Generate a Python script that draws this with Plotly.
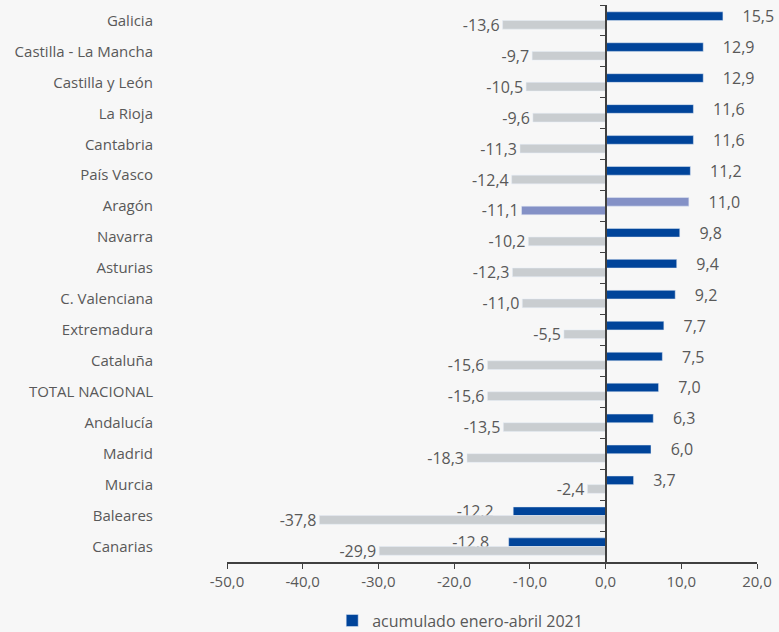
import plotly.graph_objects as go

# Datos: variación (%) por comunidad autónoma
regiones = ['Galicia', 'Castilla - La Mancha', 'Castilla y León', 'La Rioja', 'Cantabria',
            'País Vasco', 'Aragón', 'Navarra', 'Asturias', 'C. Valenciana', 'Extremadura',
            'Cataluña', 'TOTAL NACIONAL', 'Andalucía', 'Madrid', 'Murcia', 'Baleares', 'Canarias']
acum_2021 = [15.5, 12.9, 12.9, 11.6, 11.6, 11.2, 11.0, 9.8, 9.4, 9.2, 7.7, 7.5, 7.0, 6.3, 6.0, 3.7,
             -12.2, -12.8]
acum_2020 = [-13.6, -9.7, -10.5, -9.6, -11.3, -12.4, -11.1, -10.2, -12.3, -11.0, -5.5, -15.6,
             -15.6, -13.5, -18.3, -2.4, -37.8, -29.9]
x_ticks = [-50, -40, -30, -20, -10, 0, 10, 20]

azul = '#00449a'
gris = '#c9cdd0'
destacado = '#8491c6'
texto = '#595959'
fuente = 'Open Sans, sans-serif'


def fmt(v):
    # coma decimal y guion normal como en el original
    return f'{v:.1f}'.replace('.', ',')


col_azul = [destacado if r == 'Aragón' else azul for r in regiones]
col_gris = [destacado if r == 'Aragón' else gris for r in regiones]

nb = '\u00a0' * 4
txt_azul = [nb + fmt(v) if v >= 0 else fmt(v) + nb for v in acum_2021]
txt_gris = [fmt(v) for v in acum_2020]

fig = go.Figure()
fig.add_trace(go.Bar(y=regiones, x=acum_2021, orientation='h',
                     name='acumulado enero-abril 2021',
                     marker_color=col_azul,
                     text=txt_azul, texttemplate='%{text}', textposition='outside',
                     constraintext='none', cliponaxis=False,
                     textfont=dict(size=16, color=texto)))
fig.add_trace(go.Bar(y=regiones, x=acum_2020, orientation='h',
                     name='acumulado enero-abril 2020', showlegend=False,
                     marker_color=col_gris,
                     text=txt_gris, texttemplate='%{text}', textposition='outside',
                     constraintext='none', cliponaxis=False,
                     textfont=dict(size=16, color=texto)))
# eje auxiliar para dibujar la línea del cero con sus marcas
fig.add_trace(go.Bar(y=regiones, x=[0] * len(regiones), orientation='h', yaxis='y2',
                     showlegend=False, hoverinfo='skip', marker_color='rgba(0,0,0,0)'))

x0_paper = (0 - x_ticks[0]) / (x_ticks[-1] - x_ticks[0])
rango_y = [len(regiones) - 0.5, -0.5]

fig.update_layout(
    width=779, height=632,
    paper_bgcolor='#f7f7f7', plot_bgcolor='#f7f7f7',
    font=dict(family=fuente, color=texto),
    barmode='group', bargap=0.44, bargroupgap=0,
    margin=dict(l=227, r=22, t=5, b=70, autoexpand=False),
    xaxis=dict(range=[x_ticks[0], x_ticks[-1]], tickvals=x_ticks,
               ticktext=[fmt(t) for t in x_ticks],
               showgrid=False, zeroline=False, showline=True, linecolor='#404040',
               linewidth=1.5, ticks='outside', ticklen=5, tickcolor='#404040',
               tickfont=dict(size=15, color=texto)),
    yaxis=dict(range=rango_y, showgrid=False, zeroline=False, showline=False,
               ticks='', ticklabelstandoff=73, tickfont=dict(size=15, color=texto)),
    yaxis2=dict(range=rango_y, overlaying='y', anchor='free', position=x0_paper,
                side='left', showgrid=False, zeroline=False, showline=True,
                linecolor='#404040', linewidth=1.5, ticks='outside', tickson='boundaries',
                ticklen=5, tickcolor='#404040', showticklabels=False,
                categoryorder='array', categoryarray=regiones),
    legend=dict(orientation='h', x=0.44, xanchor='center', yref='container',
                y=0.018, yanchor='middle',
                font=dict(size=16, color=texto), bgcolor='rgba(0,0,0,0)'),
)

fig.write_html('out.html', config={'displayModeBar': False},
               post_script="document.body.style.margin='0';")
